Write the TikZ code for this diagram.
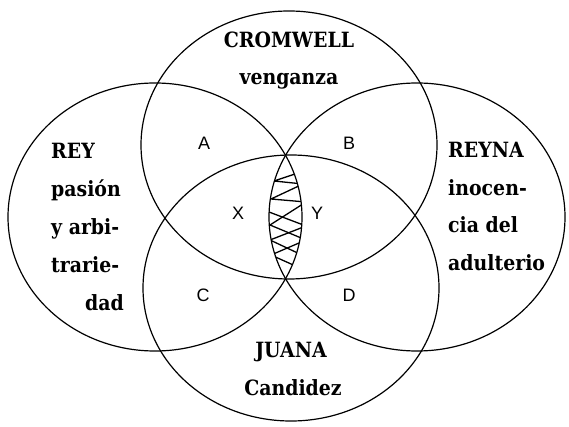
\documentclass[tikz,border=0pt]{standalone}
\usepackage{fontspec}
\newfontfamily\serifb{DejaVu Serif}[FakeStretch=0.9]
\setsansfont{Liberation Sans}
\begin{document}
\begin{tikzpicture}[x=1pt,y=-1pt,
  ring/.style={line width=1.2pt},
  hatch/.style={line width=1.3pt, line join=round},
  big/.style={font=\serifb\bfseries\fontsize{21}{25}\selectfont, inner sep=0pt},
  lbl/.style={font=\sffamily\fontsize{18}{20}\selectfont, inner sep=0pt}]
\useasboundingbox (0,0) rectangle (569,427);
% four ellipses
\draw[ring] (289,145) ellipse [x radius=148pt, y radius=134pt];
\draw[ring] (291,288) ellipse [x radius=148pt, y radius=133pt];
\draw[ring] (155,217) ellipse [x radius=147pt, y radius=134pt];
\draw[ring] (417,217) ellipse [x radius=148pt, y radius=134pt];
% hatched lens
\begin{scope}
  \clip (155,217) ellipse [x radius=147pt, y radius=134pt];
  \clip (417,217) ellipse [x radius=148pt, y radius=134pt];
  \draw[hatch] (289,150) -- (301,172) -- (274,181) -- (303,184) -- (271,199) -- (306,202)
     -- (270,225) -- (306,240) -- (271,255) -- (300,268) -- (284,284);
  \draw[hatch] (269,212) -- (306,226) -- (270,240) -- (304,256);
\end{scope}
% titles
\node[big, anchor=base] (crom) at (289,48) {CROMWELL};
\node[big, anchor=base] (veng) at (289,85) {venganza};
\node[big, anchor=base] (juana) at (291,357) {JUANA};
\node[big, anchor=base] (cand) at (293,395) {Candidez};
\node[big, anchor=base west] (rey1) at (51,159) {REY};
\node[big, anchor=base west] (rey2) at (51,196.75) {pasión};
\node[big, anchor=base west] (rey3) at (51,234.5) {y arbi-};
\node[big, anchor=base west] (rey4) at (51,272.25) {trarie-};
\node[big, anchor=base east] (rey5) at (124,310) {dad};
\node[big, anchor=base west] (reyna1) at (448,158) {REYNA};
\node[big, anchor=base west] (reyna2) at (448,195.5) {inocen-};
\node[big, anchor=base west] (reyna3) at (448,233) {cia del};
\node[big, anchor=base west] (reyna4) at (448,270.5) {adulterio};
% region labels
\node[lbl] (la) at (204,143) {A};
\node[lbl] (lb) at (349,143) {B};
\node[lbl] (lx) at (238,213) {X};
\node[lbl] (ly) at (317,213) {Y};
\node[lbl] (lc) at (203,295) {C};
\node[lbl] (ld) at (349,295) {D};
\end{tikzpicture}
\end{document}
